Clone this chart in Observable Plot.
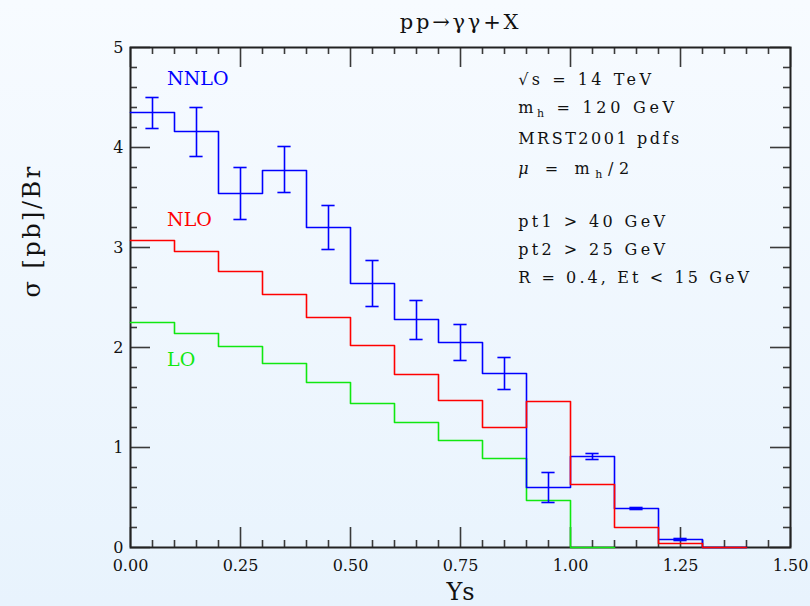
<!DOCTYPE html>
<html><head><meta charset="utf-8">
<script src="https://cdn.jsdelivr.net/npm/d3@7"></script>
<script src="https://cdn.jsdelivr.net/npm/@observablehq/plot@0.6"></script>
<style>
html,body{margin:0;padding:0;}
body{width:810px;height:606px;background:linear-gradient(#f7fbff,#e8f3fd);overflow:hidden;}
#chart svg{display:block;}
</style></head><body><div id="chart"></div>
<script>
// ---- data ----
const binEdges = [0, 0.1, 0.2, 0.3, 0.4, 0.5, 0.6, 0.7, 0.8, 0.9, 1.0, 1.1, 1.2, 1.3, 1.4];
const nnlo      = [4.35, 4.16, 3.54, 3.77, 3.20, 2.64, 2.28, 2.05, 1.74, 0.60, 0.91, 0.39, 0.08, 0.0];
const nnloErrHi = [4.50, 4.40, 3.80, 4.01, 3.42, 2.87, 2.47, 2.23, 1.90, 0.75, 0.94, 0.40, 0.09];
const nnloErrLo = [4.19, 3.91, 3.28, 3.55, 2.98, 2.41, 2.08, 1.87, 1.58, 0.45, 0.88, 0.38, 0.07];
const nlo       = [3.07, 2.96, 2.76, 2.53, 2.30, 2.02, 1.73, 1.47, 1.20, 1.46, 0.63, 0.20, 0.04, 0.0];
const lo        = [2.25, 2.14, 2.01, 1.84, 1.65, 1.44, 1.25, 1.07, 0.89, 0.47, 0.0];

const seriesNames  = ["NNLO", "NLO", "LO"];
const seriesColors = ["#0000ff", "#ff0000", "#10e810"];
const seriesLabelX = [0.083, 0.083, 0.083];
const seriesLabelY = [4.69, 3.28, 1.88];

const annotations = ["√s = 14 TeV", "m_h = 120 GeV", "MRST2001 pdfs", "μ = m_h/2",
                     "pt1 > 40 GeV", "pt2 > 25 GeV", "R = 0.4, Et < 15 GeV"];
const annotX = 0.881;
const annotY = [4.678, 4.40, 4.085, 3.785, 3.26, 2.98, 2.695];

const xMajor = [0, 0.25, 0.5, 0.75, 1.0, 1.25, 1.5];
const xMinor = d3.range(0, 31).map(i => i * 0.05).filter(v => Math.abs(v / 0.25 - Math.round(v / 0.25)) > 1e-6);
const yMajor = [0, 1, 2, 3, 4, 5];
const yMinor = d3.range(0, 26).map(i => i * 0.2).filter(v => Math.abs(v - Math.round(v)) > 1e-6);

const title = "pp→γγ+X";
const xLabel = "Ys";
const yLabel = "σ [pb]/Br";

// ---- layout / style ----
const W = 810, H = 606, mL = 130, mR = 20, mT = 47, mB = 59;
const innerW = W - mL - mR, innerH = H - mT - mB;
const majorLen = 20, minorLen = 7;
const capHalf = 0.015;
const annotTextLength = [133, 156, 161, 111, 147, 147, 231]; // rendered widths (px)

function stepRows(vals) {
  const rows = vals.map((v, i) => ({x: binEdges[i], y: v}));
  rows.push({x: binEdges[vals.length], y: vals[vals.length - 1]});
  return rows;
}
const errRows = nnloErrHi.map((hi, i) => ({c: (binEdges[i] + binEdges[i + 1]) / 2, hi, lo: nnloErrLo[i]}));
const seriesLabels = seriesNames.map((n, i) => ({n, x: seriesLabelX[i], y: seriesLabelY[i], c: seriesColors[i]}));
const annRows = annotations.map((t, i) => ({t, y: annotY[i]}));

const tickStyle = {stroke: "#3a3a3a", strokeWidth: 1.6};

const plot = Plot.plot({
  width: W, height: H,
  marginLeft: mL, marginRight: mR, marginTop: mT, marginBottom: mB,
  style: {background: "transparent", fontFamily: "DejaVu Serif", fontSize: "16px", color: "#111", overflow: "visible"},
  x: {domain: [0, 1.5]},
  y: {domain: [0, 5]},
  marks: [
    Plot.tickX(xMinor, {x: d => d, insetTop: innerH - minorLen, ...tickStyle}),
    Plot.tickX(xMajor, {x: d => d, insetTop: innerH - majorLen, ...tickStyle}),
    Plot.tickX(xMinor, {x: d => d, insetBottom: innerH - minorLen, ...tickStyle}),
    Plot.tickX(xMajor, {x: d => d, insetBottom: innerH - majorLen, ...tickStyle}),
    Plot.tickY(yMinor, {y: d => d, insetRight: innerW - minorLen, ...tickStyle}),
    Plot.tickY(yMajor, {y: d => d, insetRight: innerW - majorLen, ...tickStyle}),
    Plot.tickY(yMinor, {y: d => d, insetLeft: innerW - minorLen, ...tickStyle}),
    Plot.tickY(yMajor, {y: d => d, insetLeft: innerW - majorLen, ...tickStyle}),
    Plot.axisX(xMajor, {tickSize: 0, tickPadding: 12, tickFormat: d3.format(".2f"), label: null, fontSize: 16, fill: "#111"}),
    Plot.axisY(yMajor, {tickSize: 0, tickPadding: 7, tickFormat: d3.format("d"), label: null, fontSize: 16, fill: "#111"}),
    Plot.frame({stroke: "#222", strokeWidth: 2}),
    Plot.line(stepRows(lo), {x: "x", y: "y", curve: "step-after", stroke: seriesColors[2], strokeWidth: 1.6}),
    Plot.line(stepRows(nnlo), {x: "x", y: "y", curve: "step-after", stroke: seriesColors[0], strokeWidth: 1.6}),
    Plot.line(stepRows(nlo), {x: "x", y: "y", curve: "step-after", stroke: seriesColors[1], strokeWidth: 1.6}),
    Plot.ruleX(errRows, {x: "c", y1: "lo", y2: "hi", stroke: seriesColors[0], strokeWidth: 1.6}),
    Plot.ruleY(errRows, {y: "hi", x1: d => d.c - capHalf, x2: d => d.c + capHalf, stroke: seriesColors[0], strokeWidth: 1.6}),
    Plot.ruleY(errRows, {y: "lo", x1: d => d.c - capHalf, x2: d => d.c + capHalf, stroke: seriesColors[0], strokeWidth: 1.6}),
    Plot.text(seriesLabels, {x: "x", y: "y", text: "n", fill: d => d.c, textAnchor: "start", fontSize: 19}),
    Plot.text(annRows, {x: () => annotX, y: "y", text: "t", textAnchor: "start", fontSize: 16, fill: "#111"}),
    Plot.text([title], {frameAnchor: "top", lineAnchor: "middle", dy: -25, fontSize: 21, fill: "#111"}),
    Plot.text([xLabel], {frameAnchor: "bottom", lineAnchor: "middle", dy: 45, fontSize: 24, fill: "#111"}),
    Plot.text([yLabel], {frameAnchor: "left", lineAnchor: "middle", dx: -98, rotate: -90, fontSize: 24, fill: "#111"})
  ]
});
document.getElementById("chart").appendChild(plot);

// post-processing: spacing and subscripts
const NS = "http://www.w3.org/2000/svg";
plot.querySelectorAll("text").forEach(t => {
  const s = t.textContent;
  if (s === title) t.setAttribute("letter-spacing", "2.8");
  if (s === yLabel) t.setAttribute("letter-spacing", "2.5");
  const ai = annotations.indexOf(s);
  if (ai < 0) return;
  if (/m_h|μ/.test(s)) {
    while (t.firstChild) t.removeChild(t.firstChild);
    const parts = s.split(/(m_h|μ)/).filter(p => p.length);
    let shifted = false;
    const add = (txt, attrs) => {
      const e = document.createElementNS(NS, "tspan");
      e.textContent = txt;
      for (const k in attrs) e.setAttribute(k, attrs[k]);
      t.appendChild(e);
    };
    parts.forEach(p => {
      if (p === "m_h") {
        add("m", shifted ? {dy: "-4"} : {});
        add("h", {"font-size": "11", dy: "4"});
        shifted = true;
      } else {
        const attrs = {};
        if (p === "μ") attrs["font-style"] = "italic";
        if (shifted) { attrs.dy = "-4"; shifted = false; }
        add(p, attrs);
      }
    });
  }
  t.setAttribute("textLength", annotTextLength[ai]);
  t.setAttribute("lengthAdjust", "spacing");
});
</script>
</body></html>
